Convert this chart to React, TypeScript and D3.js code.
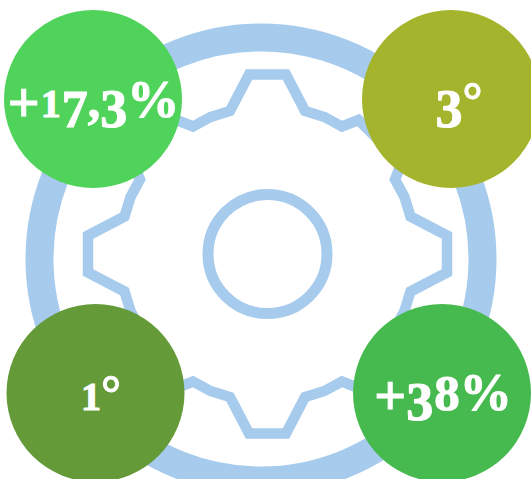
import React from "react";
import * as d3 from "d3";

const WIDTH = 531;
const HEIGHT = 479;

// Badges
const badgeLabels = ["+17,3%", "3°", "1°", "+38%"];
const badgeColors = ["#50d35a", "#a5b42d", "#659a38", "#46ba4e"];
const badgeCx = [93, 451, 95.5, 442];
const badgeCy = [99, 99, 393, 393];
const labelCx = [93.5, 459, 101, 443];
const labelY = [117, 117, 410, 410];
const BADGE_R = 89;

// One quarter of the gear's outline, as offsets from its centre
const gearQuarter: [number, number][] = [
  [-18.5, -179.5],
  [18.5, -179.5],
  [37.5, -143],
  [57, -137],
  [74.5, -127.5],
  [91, -134],
  [134, -91],
  [127.5, -74.5],
  [137, -57],
  [143, -37.5],
];

const gearPoints: [number, number][] = d3.range(4).flatMap((q) => {
  const a = (q * Math.PI) / 2;
  const c = Math.cos(a);
  const s = Math.sin(a);
  return gearQuarter.map(([x, y]) => [x * c - y * s, x * s + y * c] as [number, number]);
});

// Imitates old-style figures with a lining serif
const glyphStyle: Record<string, { scale: number; drop: number; dx?: number }> = {
  "+": { scale: 1.12, drop: 0.1 },
  "1": { scale: 0.8, drop: 0, dx: 1 },
  "3": { scale: 1.08, drop: 0.19 },
  "7": { scale: 1.04, drop: 0.19, dx: 1 },
  "8": { scale: 1.02, drop: 0, dx: 1 },
  "%": { scale: 1.04, drop: 0, dx: 0 },
};
const BASE_SIZE = 50;

function Label({ text, x, y }: { text: string; x: number; y: number }) {
  let prevDrop = 0;
  return (
    <text
      x={x}
      y={y}
      textAnchor="middle"
      fill="#ffffff"
      stroke="#ffffff"
      strokeWidth={1.1}
      fontFamily="'Liberation Serif', serif"
      fontWeight="bold"
    >
      {Array.from(text).map((ch, i) => {
        const st = glyphStyle[ch] ?? { scale: 1, drop: 0 };
        const size = BASE_SIZE * st.scale;
        const drop = st.drop * BASE_SIZE;
        const dy = drop - prevDrop;
        prevDrop = drop;
        return (
          <tspan key={i} fontSize={size} dy={dy} dx={i > 0 ? st.dx ?? 0 : 0}>
            {ch}
          </tspan>
        );
      })}
    </text>
  );
}

export default function App() {
  const gearLine = d3.line<[number, number]>().curve(d3.curveLinearClosed);
  return (
    <svg
      width={WIDTH}
      height={HEIGHT}
      viewBox={`0 0 ${WIDTH} ${HEIGHT}`}
      style={{ position: "absolute", left: 0, top: 0 }}
    >
      <circle cx={261} cy={259} r={221.5} fill="none" stroke="#a6cbed" strokeWidth={28} />
      <g transform="translate(267.5,254)">
        <path d={gearLine(gearPoints) ?? ""} fill="none" stroke="#a6cbed" strokeWidth={10.5} strokeLinejoin="miter" />
        <circle r={59.5} fill="none" stroke="#a6cbed" strokeWidth={11} />
      </g>
      {badgeLabels.map((label, i) => (
        <g key={label}>
          <circle cx={badgeCx[i]} cy={badgeCy[i]} r={BADGE_R} fill={badgeColors[i]} />
          <Label text={label} x={labelCx[i]} y={labelY[i]} />
        </g>
      ))}
    </svg>
  );
}
